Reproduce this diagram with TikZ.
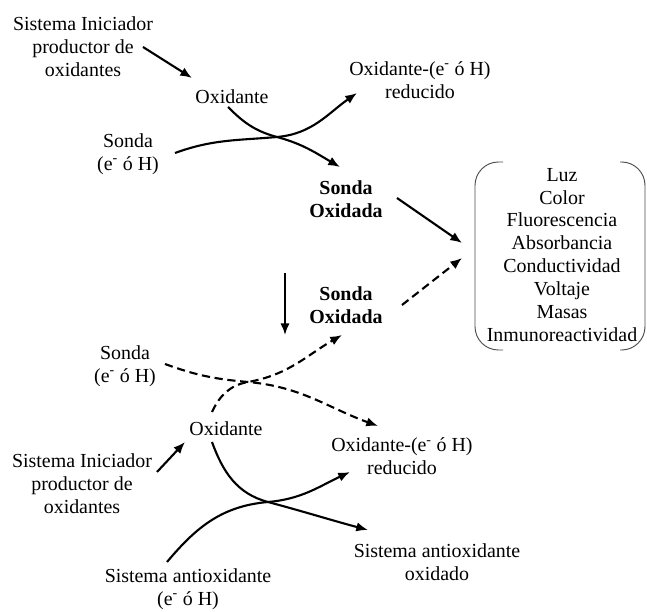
\documentclass[tikz,border=0pt]{standalone}
\usepackage{fontspec}
\setmainfont{Liberation Serif}
\usetikzlibrary{arrows.meta, calc}
\tikzstyle{species} = [align=center, inner sep=0pt, font=\fontsize{17}{19.6}\selectfont]
\tikzstyle{product} = [species, font=\fontsize{17}{19.6}\selectfont\bfseries]
\tikzstyle{reaction} = [line width=1.8pt, -{Latex[length=10pt, width=8pt]}]
\tikzstyle{trace} = [reaction, dash pattern=on 7pt off 4pt]
\tikzstyle{signal} = [line width=0.8pt, draw=black!70, rounded corners=20pt]
\newcommand{\eH}{(e\textsuperscript{-} ó H)}

\begin{document}
\begin{tikzpicture}[x=0.03cm, y=0.03cm]
  \useasboundingbox (0,0) rectangle (647,611);
  \node (ini1) [species] at (83,564) {Sistema Iniciador\\productor de\\oxidantes};
  \node (oxi1) [species] at (232,514) {Oxidante};
  \node (red1) [species] at (420,531) {Oxidante-\eH\\reducido};
  \node (son1) [species] at (128,457) {Sonda\\\eH};
  \node (sox1) [product] at (346,412) {Sonda\\Oxidada};
  \node (efx) [species] at (562,356) {Luz\\Color\\Fluorescencia\\Absorbancia\\Conductividad\\Voltaje\\Masas\\Inmunoreactividad};
  \node (sox2) [product] at (346,306) {Sonda\\Oxidada};
  \node (son2) [species] at (125,245) {Sonda\\\eH};
  \node (oxi2) [species] at (226,182) {Oxidante};
  \node (red2) [species] at (402,155) {Oxidante-\eH\\reducido};
  \node (ini2) [species] at (82,127) {Sistema Iniciador\\productor de\\oxidantes};
  \node (aox2) [species] at (437,49) {Sistema antioxidante\\oxidado};
  \node (aox1) [species] at (188,22) {Sistema antioxidante\\\eH};
  \coordinate (c1) at (277,474);
  \coordinate (c2) at (248,229);
  \coordinate (c3) at (268,109);
  \draw [signal] (503,449) -- (475,449) -- (475,261) -- (503,261);
  \draw [signal] (620,449) -- (645,449) -- (645,261) -- (620,261);
  \draw [reaction] ($(ini1)+(60,0)$) -- ($(oxi1)+(-40,19)$);
  \draw [reaction] ($(son1)+(47,1)$) to[out=20, in=185] (c1) to[out=5, in=215] ($(red1)+(-63,-13)$);
  \draw [reaction] ($(oxi1)+(-4,-10)$) to[out=-45, in=165] (c1) to[out=-15, in=150] ($(sox1)+(-6,32)$);
  \draw [reaction] ($(sox1)+(51,1)$) -- ($(efx)+(-100,12)$);
  \draw [reaction] ($(sox1)+(-61,-74)$) -- ($(sox2)+(-61,-30)$);
  \draw [trace] ($(sox2)+(56,0)$) -- ($(efx)+(-100,-3)$);
  \draw [trace] ($(son2)+(40,2)$) to[out=-20, in=175] (c2) to[out=-5, in=160] ($(red2)+(-24,30)$);
  \draw [trace] ($(oxi2)+(-14,17)$) to[out=65, in=190] (c2) to[out=10, in=210] ($(sox2)+(-4,-30)$);
  \draw [reaction] ($(ini2)+(75,12)$) -- ($(oxi2)+(-41,-13)$);
  \draw [reaction] ($(oxi2)+(-14,-13)$) to[out=-70, in=165] (c3) to[out=-15, in=165] ($(aox2)+(-69,32)$);
  \draw [reaction] ($(aox1)+(-21,27)$) to[out=50, in=185] (c3) to[out=5, in=205] ($(red2)+(-52,-16)$);
\end{tikzpicture}
\end{document}
